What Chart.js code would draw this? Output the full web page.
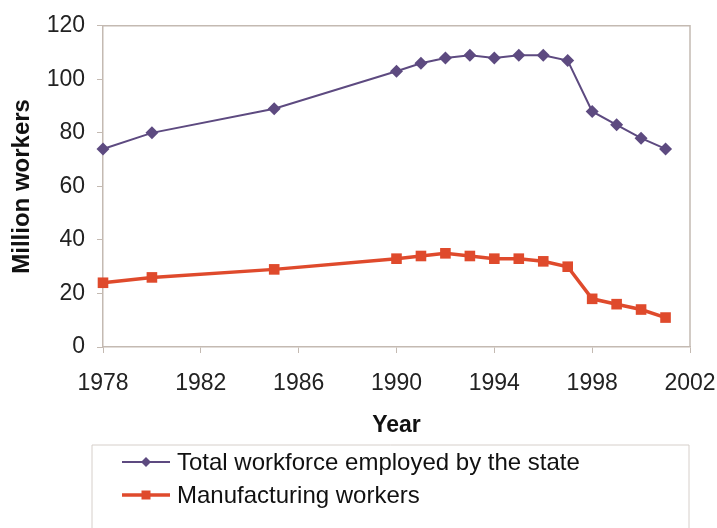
<!DOCTYPE html>
<html>
<head>
<meta charset="utf-8">
<script src="https://cdn.jsdelivr.net/npm/chart.js@4"></script>
<style>
  html, body { margin: 0; padding: 0; background: #fff; }
  #wrap { width: 717px; height: 528px; position: relative; }
</style>
</head>
<body>
<div id="wrap"><canvas id="workChart" width="717" height="528"></canvas></div>
<script>
    // data
    const years = [1978, 1980, 1985, 1990, 1991, 1992, 1993, 1994, 1995, 1996, 1997, 1998, 1999, 2000, 2001];
    const totalState = [74, 80, 89, 103, 106, 108, 109, 108, 109, 109, 107, 88, 83, 78, 74];
    const manufacturing = [24, 26, 29, 33, 34, 35, 34, 33, 33, 32, 30, 18, 16, 14, 11];
    const seriesNames = ['Total workforce employed by the state', 'Manufacturing workers'];
    const xTicks = [1978, 1982, 1986, 1990, 1994, 1998, 2002];
    const yTicks = [0, 20, 40, 60, 80, 100, 120];

    const purple = '#5d4a80';
    const red = '#df4a2c';
    const frameColor = '#c4bab2';
    const font = "Arial, 'Liberation Sans', sans-serif";

    const toPoints = vals => years.map((yr, i) => ({ x: yr, y: vals[i] }));

    // frame round the plot area + boxed legend under it
    const framePlugin = {
        id: 'frame',
        beforeDatasetsDraw(chart) {
            const a = chart.chartArea;
            const ctx = chart.ctx;
            ctx.save();
            ctx.strokeStyle = frameColor;
            ctx.lineWidth = 1.5;
            ctx.beginPath();
            ctx.moveTo(a.left, a.top);
            ctx.lineTo(a.right, a.top);
            ctx.lineTo(a.right, a.bottom);
            ctx.stroke();
            ctx.restore();
        },
        afterDraw(chart) {
            const a = chart.chartArea;
            const ctx = chart.ctx;
            const boxLeft = a.left - 11;
            const boxRight = a.right - 1;
            const boxTop = chart.height - 83;
            ctx.save();
            ctx.strokeStyle = '#d6cfca';
            ctx.lineWidth = 1;
            ctx.beginPath();
            ctx.moveTo(boxLeft, chart.height);
            ctx.lineTo(boxLeft, boxTop);
            ctx.lineTo(boxRight, boxTop);
            ctx.lineTo(boxRight, chart.height);
            ctx.stroke();

            chart.data.datasets.forEach((ds, i) => {
                const y = boxTop + 17 + i * 33;
                const x0 = boxLeft + 30;
                ctx.strokeStyle = ds.borderColor;
                ctx.lineWidth = ds.borderWidth;
                ctx.beginPath();
                ctx.moveTo(x0, y);
                ctx.lineTo(x0 + 48, y);
                ctx.stroke();
                ctx.fillStyle = ds.pointBackgroundColor;
                ctx.beginPath();
                const cx = x0 + 24;
                if (ds.pointStyle === 'rectRot') {
                    const r = 5;
                    ctx.moveTo(cx, y - r);
                    ctx.lineTo(cx + r, y);
                    ctx.lineTo(cx, y + r);
                    ctx.lineTo(cx - r, y);
                    ctx.closePath();
                } else {
                    ctx.rect(cx - 4.5, y - 4.5, 9, 9);
                }
                ctx.fill();
                ctx.fillStyle = '#111';
                ctx.font = '24px ' + font;
                ctx.textBaseline = 'middle';
                ctx.textAlign = 'left';
                ctx.fillText(ds.label, x0 + 55, y + 1);
            });
            ctx.restore();
        }
    };

    const ctx = document.getElementById('workChart').getContext('2d');
    const myChart = new Chart(ctx, {
        type: 'line',
        data: {
            datasets: [{
                label: seriesNames[0],
                data: toPoints(totalState),
                borderColor: purple,
                backgroundColor: purple,
                pointBackgroundColor: purple,
                pointBorderColor: purple,
                borderWidth: 2,
                pointStyle: 'rectRot',
                pointRadius: 6.5,
                pointBorderWidth: 0,
                tension: 0,
                clip: false
            }, {
                label: seriesNames[1],
                data: toPoints(manufacturing),
                borderColor: red,
                backgroundColor: red,
                pointBackgroundColor: red,
                pointBorderColor: red,
                borderWidth: 3.5,
                pointStyle: 'rect',
                pointRadius: 7.5,
                pointBorderWidth: 0,
                tension: 0,
                clip: false
            }]
        },
        options: {
            responsive: false,
            animation: false,
            layout: {
                padding: { top: 9, left: 8, right: 0, bottom: 85 }
            },
            plugins: {
                legend: { display: false },
                tooltip: { enabled: false }
            },
            scales: {
                x: {
                    type: 'linear',
                    min: 1978,
                    max: 2002,
                    afterBuildTicks: axis => { axis.ticks = xTicks.map(v => ({ value: v })); },
                    afterFit: scale => {
                        scale.height = 96;
                        scale.paddingRight = 27;
                    },
                    grid: {
                        drawOnChartArea: false,
                        drawTicks: true,
                        tickLength: 6,
                        color: frameColor
                    },
                    border: { color: frameColor, width: 1.5 },
                    ticks: {
                        color: '#222',
                        font: { size: 23, family: font },
                        padding: 17,
                        maxRotation: 0,
                        autoSkip: false,
                        callback: v => String(v)
                    },
                    title: {
                        display: true,
                        text: 'Year',
                        color: '#111',
                        font: { size: 23, weight: 'bold', family: font },
                        padding: { top: 0, bottom: 4 }
                    }
                },
                y: {
                    min: 0,
                    max: 120,
                    afterBuildTicks: axis => { axis.ticks = yTicks.map(v => ({ value: v })); },
                    afterFit: scale => { scale.width = 95; },
                    grid: {
                        drawOnChartArea: false,
                        drawTicks: true,
                        tickLength: 6,
                        color: frameColor
                    },
                    border: { color: frameColor, width: 1.5 },
                    ticks: {
                        color: '#222',
                        font: { size: 23, family: font },
                        padding: 12,
                        callback: v => String(v)
                    },
                    title: {
                        display: true,
                        text: 'Million workers',
                        color: '#111',
                        font: { size: 24, weight: 'bold', family: font },
                        padding: { top: 0, bottom: 10 }
                    }
                }
            }
        },
        plugins: [framePlugin]
    });
</script>
</body>
</html>
